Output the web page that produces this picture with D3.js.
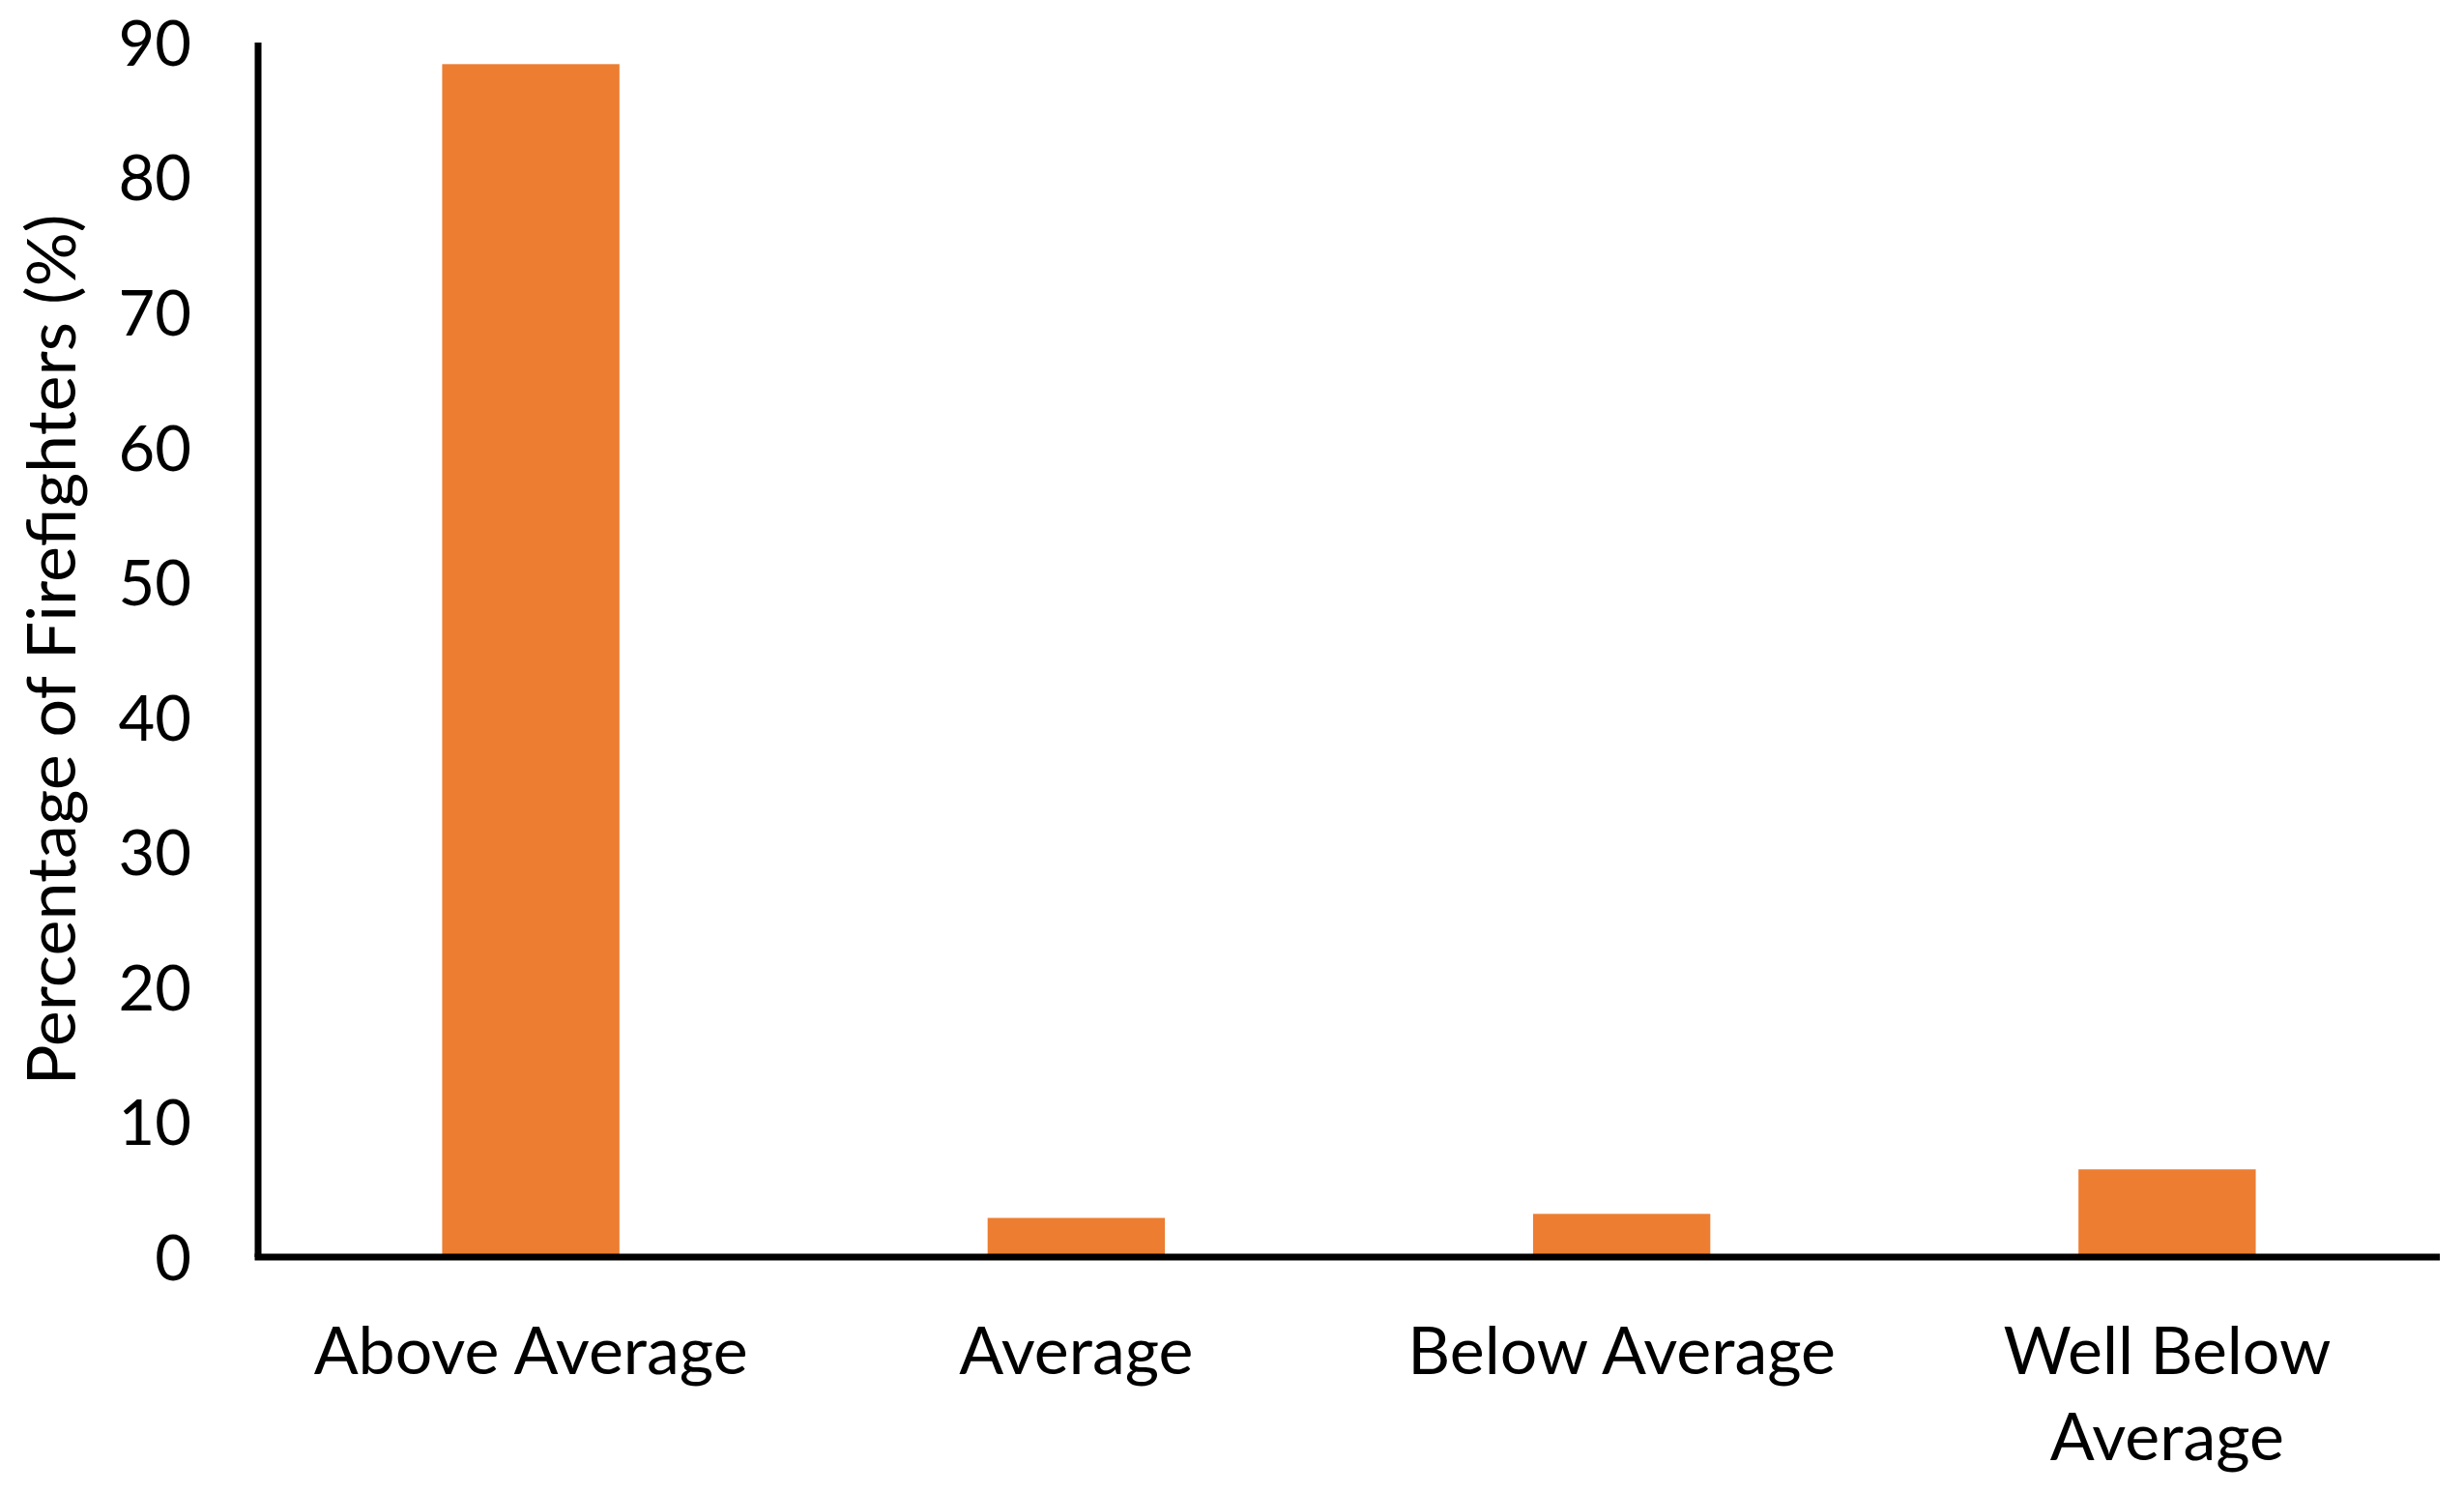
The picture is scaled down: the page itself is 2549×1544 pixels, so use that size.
<!DOCTYPE html>
<html>
<head>
<meta charset="utf-8">
<script src="https://cdn.jsdelivr.net/npm/d3@7"></script>
<style>
  html, body { margin: 0; padding: 0; background: #fff; }
  svg { display: block; }
  text { font-family: Lato, "Open Sans", sans-serif; fill: #000; }
</style>
</head>
<body>
<svg id="chart" width="2549" height="1544"></svg>
<script>
// Data
const categories = ["Above Average", "Average", "Below Average", "Well Below Average"];
const values = [88.4, 2.9, 3.2, 6.5];
const yTicks = [0, 10, 20, 30, 40, 50, 60, 70, 80, 90];
const yLabel = "Percentage of Firefighters (%)";

const W = 2549, H = 1544;
const margin = { left: 267, right: 25, top: 44, bottom: 244 };
const svg = d3.select("#chart");

const x = d3.scaleBand()
  .domain(categories)
  .range([margin.left, W - margin.right])
  .paddingInner(0.675)
  .paddingOuter(0.3375);

const y = d3.scaleLinear()
  .domain([0, 90])
  .range([H - margin.bottom, margin.top]);

// Bars
svg.append("g").selectAll("rect")
  .data(values)
  .join("rect")
  .attr("x", (d, i) => x(categories[i]))
  .attr("width", x.bandwidth())
  .attr("y", d => y(d))
  .attr("height", d => y(0) - y(d))
  .attr("fill", "#ED7D31");

// Y axis
const yAxis = d3.axisLeft(y).tickValues(yTicks).tickSize(0).tickPadding(69);
const gy = svg.append("g").attr("transform", `translate(${margin.left},0)`).call(yAxis);
gy.select(".domain").attr("stroke", "#000").attr("stroke-width", 7).attr("d", `M0,${y(0)}V${y(90)}`);
gy.selectAll("text").attr("font-size", 65).attr("font-family", "Lato, sans-serif").attr("fill", "#000").attr("dy", "0.36em");

// X axis
const xAxis = d3.axisBottom(x).tickSize(0).tickPadding(0);
const gx = svg.append("g").attr("transform", `translate(0,${y(0)})`).call(xAxis);
gx.select(".domain").attr("stroke", "#000").attr("stroke-width", 7)
  .attr("d", `M${margin.left - 3.5},0H${W - margin.right}`);
gx.selectAll("text").remove();

// Wrapped category labels
const fontSize = 68, lineH = 89;
gx.selectAll(".tick").each(function(d) {
  const g = d3.select(this);
  const t = g.append("text")
    .attr("text-anchor", "middle")
    .attr("font-size", fontSize)
    .attr("y", 121);
  const words = d.split(" ");
  let line = [];
  let tspan = t.append("tspan").attr("x", 0).attr("dy", 0);
  for (const w of words) {
    line.push(w);
    tspan.text(line.join(" "));
    if (tspan.node().getComputedTextLength() > x.step() && line.length > 1) {
      line.pop();
      tspan.text(line.join(" "));
      line = [w];
      tspan = t.append("tspan").attr("x", 0).attr("dy", lineH).text(w);
    }
  }
});

// Y axis title
svg.append("text")
  .attr("transform", `translate(78,${(y(0) + y(90)) / 2}) rotate(-90)`)
  .attr("text-anchor", "middle")
  .attr("font-size", 70)
  .text(yLabel);
</script>
</body>
</html>
